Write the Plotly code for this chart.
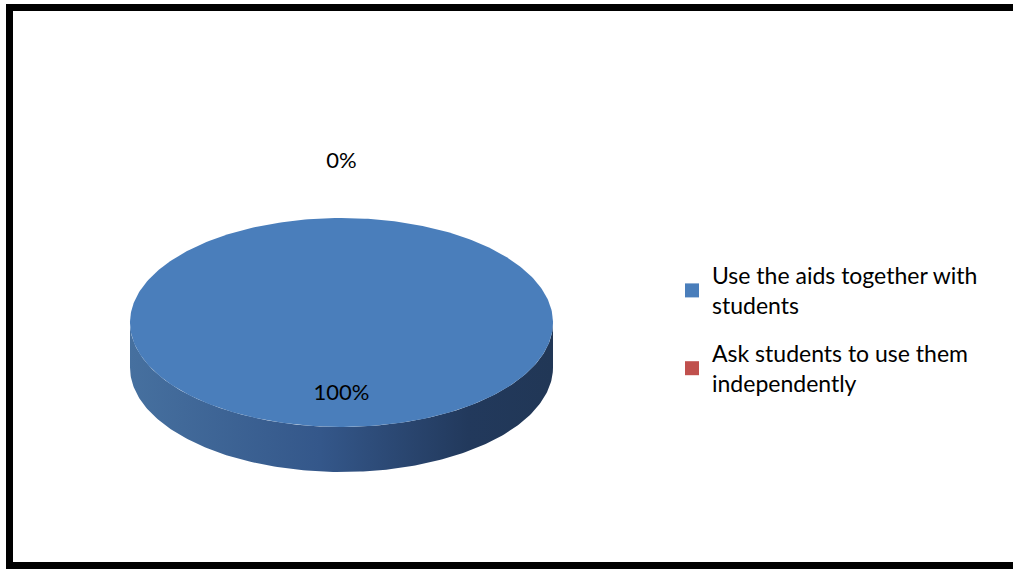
import numpy as np
import plotly.graph_objects as go

# ---- data ----
labels = ["Use the aids together with<br>students", "Ask students to use them<br>independently"]
values = [100, 0]
top_colors = ["#4a7ebb", "#c0504d"]
side_scales = [
    [[0, "#46709f"], [0.45, "#34578a"], [0.8, "#22395c"], [1, "#213756"]],
    [[0, "#a84442"], [1, "#6e2b2a"]],
]

# ---- geometry (pixel space) ----
W, H = 1013, 569
cx, cy, rx, ry, depth = 341.5, 322.5, 211.5, 104.5, 45

def pt(theta_deg, dy=0.0, f=1.0):
    t = np.radians(theta_deg)
    return cx + f * rx * np.sin(t), cy - f * ry * np.cos(t) + dy

total = float(sum(values))
fig = go.Figure()

starts = []
a = 0.0
for v in values:
    starts.append((a, a + 360.0 * v / total))
    a += 360.0 * v / total

# side walls (front half: 90..270 deg clockwise from top)
for i, (a0, a1) in enumerate(starts):
    b0, b1 = max(a0, 90.0), min(a1, 270.0)
    if b1 <= b0:
        continue
    th = np.linspace(b0, b1, 200)
    xt, yt = pt(th)
    xb, yb = pt(th[::-1], dy=depth)
    fig.add_trace(go.Scatter(
        x=np.concatenate([xt, xb, xt[:1]]), y=np.concatenate([yt, yb, yt[:1]]),
        mode="lines", line=dict(width=0), fill="toself",
        fillgradient=dict(type="horizontal", colorscale=side_scales[i]),
        hoverinfo="skip", showlegend=False))

# top faces
for i, (a0, a1) in enumerate(starts):
    if a1 <= a0:
        continue
    th = np.linspace(a0, a1, 400)
    xs, ys = pt(th)
    if a1 - a0 < 359.999:
        xs = np.concatenate([[cx], xs, [cx]])
        ys = np.concatenate([[cy], ys, [cy]])
    fig.add_trace(go.Scatter(
        x=xs, y=ys, mode="lines", line=dict(width=0, color=top_colors[i]),
        fill="toself", fillcolor=top_colors[i], hoverinfo="skip", showlegend=False))

# data labels
lx, ly, lt = [], [], []
for (a0, a1), v in zip(starts, values):
    mid = (a0 + a1) / 2.0
    f = 0.69 if v / total > 0.05 else 1.53
    x, y = pt(mid, f=f)
    lx.append(x); ly.append(y); lt.append(f"{v / total:.0%}")
fig.add_trace(go.Scatter(x=lx, y=ly, text=lt, mode="text",
                         textfont=dict(family="Lato", size=22, color="#000000"),
                         textposition="middle center", hoverinfo="skip", showlegend=False))

# legend entries
for i, lab in enumerate(labels):
    fig.add_trace(go.Scatter(x=[None], y=[None], mode="markers", name=lab,
                             legendgroup=f"g{i}",
                             marker=dict(symbol="square", size=14, color=top_colors[i])))

frame = dict(color="black", width=7)
fig.update_layout(
    width=W, height=H,
    margin=dict(l=0, r=0, t=0, b=0),
    paper_bgcolor="white", plot_bgcolor="white",
    xaxis=dict(range=[0, W], visible=False, fixedrange=True),
    yaxis=dict(range=[H, 0], visible=False, fixedrange=True),
    showlegend=True,
    legend=dict(x=672 / W, y=1 - 254 / H, xanchor="left", yanchor="top",
                font=dict(family="Lato", size=23, color="#000000"),
                tracegroupgap=15, itemwidth=30, bgcolor="rgba(0,0,0,0)"),
    shapes=[
        dict(type="line", xref="paper", yref="paper", x0=6 / W, x1=1, y0=1 - 7.5 / H, y1=1 - 7.5 / H, line=frame),
        dict(type="line", xref="paper", yref="paper", x0=9.5 / W, x1=9.5 / W, y0=1 - 4 / H, y1=0, line=frame),
        dict(type="line", xref="paper", yref="paper", x0=6 / W, x1=1, y0=1 - 565.5 / H, y1=1 - 565.5 / H, line=frame),
    ],
    font=dict(family="Lato"),
)

fig.write_html("out.html", config={"displayModeBar": False},
               post_script=("document.documentElement.style.background='white';"
                            "document.documentElement.style.overflow='hidden';"
                            "document.body.style.background='white';"
                            "document.body.style.margin='0px';document.body.style.overflow='hidden';"))
